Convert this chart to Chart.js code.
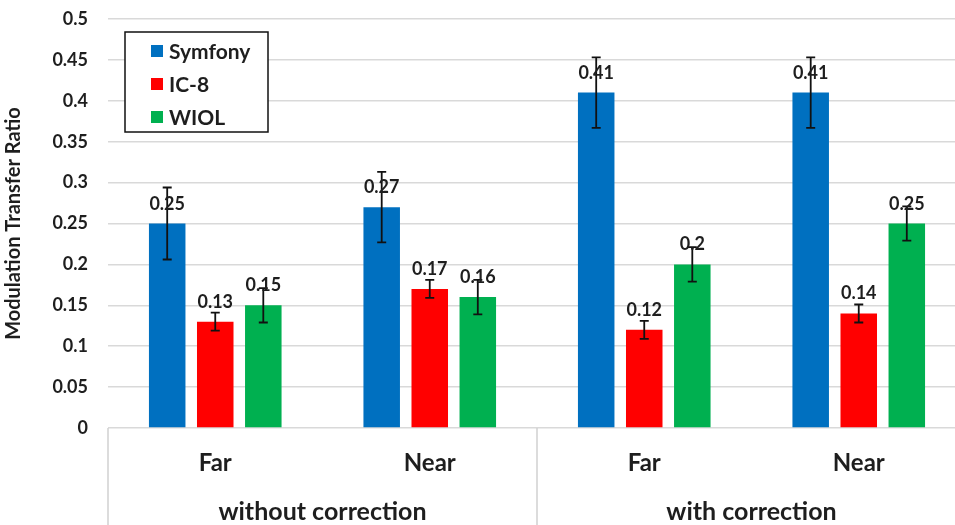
<!DOCTYPE html>
<html>
<head>
<meta charset="utf-8">
<script src="https://cdn.jsdelivr.net/npm/chart.js@4"></script>
<style>
html,body{margin:0;padding:0;background:#fff;overflow:hidden;}
#wrap{width:955px;height:525px;overflow:hidden;}
</style>
</head>
<body>
<div id="wrap"><canvas id="c" width="966" height="525"></canvas></div>
<script>
const categories = ["Far", "Near", "Far", "Near"];
const groups = ["without correction", "with correction"];
const seriesNames = ["Symfony", "IC-8", "WIOL"];
const symfony = [0.25, 0.27, 0.41, 0.41];
const ic8 = [0.13, 0.17, 0.12, 0.14];
const wiol = [0.15, 0.16, 0.20, 0.25];
const symfonyErr = [0.044, 0.043, 0.043, 0.043];
const ic8Err = [0.011, 0.011, 0.011, 0.011];
const wiolErr = [0.021, 0.021, 0.021, 0.021];
const yTicks = [0, 0.05, 0.1, 0.15, 0.2, 0.25, 0.3, 0.35, 0.4, 0.45, 0.5];

const colors = ["#0070C0", "#FF0000", "#00B050"];
const FONT = "Lato, 'Open Sans', sans-serif";
const TXT = "#1e1e1e";

const errorPlugin = {
  id: "errbars",
  afterDatasetsDraw(chart) {
    const ctx = chart.ctx, y = chart.scales.y;
    chart.data.datasets.forEach((ds, di) => {
      const meta = chart.getDatasetMeta(di);
      meta.data.forEach((bar, i) => {
        const v = ds.data[i], e = ds.errors[i];
        const yt = y.getPixelForValue(v + e), yb = y.getPixelForValue(v - e);
        ctx.save();
        ctx.strokeStyle = "#111";
        ctx.lineWidth = 1.8;
        ctx.beginPath();
        ctx.moveTo(bar.x, yt); ctx.lineTo(bar.x, yb);
        ctx.moveTo(bar.x - 4.5, yt); ctx.lineTo(bar.x + 4.5, yt);
        ctx.moveTo(bar.x - 4.5, yb); ctx.lineTo(bar.x + 4.5, yb);
        ctx.stroke();
        ctx.restore();
      });
    });
    chart.data.datasets.forEach((ds, di) => {
      const meta = chart.getDatasetMeta(di);
      meta.data.forEach((bar, i) => {
        ctx.save();
        ctx.font = "bold 18px " + FONT;
        ctx.fillStyle = TXT;
        ctx.textAlign = "center";
        ctx.textBaseline = "alphabetic";
        ctx.fillText(String(ds.data[i]), bar.x, bar.y - 14);
        ctx.restore();
      });
    });
  }
};

const extrasPlugin = {
  id: "extras",
  afterDraw(chart) {
    const ctx = chart.ctx, ca = chart.chartArea, x = chart.scales.x;
    const H = chart.height;
    const step = x.getPixelForValue(1) - x.getPixelForValue(0);
    const seps = [x.getPixelForValue(0) - step / 2, x.getPixelForValue(1) + step / 2, x.getPixelForValue(3) + step / 2];
    ctx.save();
    ctx.strokeStyle = "#D0D0D0";
    ctx.lineWidth = 1.5;
    seps.forEach(px => {
      ctx.beginPath(); ctx.moveTo(px, ca.bottom); ctx.lineTo(px, H); ctx.stroke();
    });
    ctx.font = "bold 25px " + FONT;
    ctx.fillStyle = TXT;
    ctx.textAlign = "center";
    ctx.textBaseline = "middle";
    groups.forEach((g, gi) => {
      const cx = (x.getPixelForValue(gi * 2) + x.getPixelForValue(gi * 2 + 1)) / 2;
      ctx.fillText(g, cx, 512);
    });
    const lx = ca.left + 17, ly = ca.top + 13, lw = 143, lh = 100;
    ctx.fillStyle = "#fff";
    ctx.fillRect(lx, ly, lw, lh);
    ctx.strokeStyle = "#111";
    ctx.lineWidth = 1.5;
    ctx.strokeRect(lx, ly, lw, lh);
    ctx.font = "bold 21px " + FONT;
    ctx.textAlign = "left";
    chart.data.datasets.forEach((ds, i) => {
      const cy = ly + 19 + i * 33;
      ctx.fillStyle = ds.backgroundColor;
      ctx.fillRect(lx + 26, cy - 6, 12, 12);
      ctx.fillStyle = TXT;
      ctx.fillText(ds.label, lx + 44, cy + 1);
    });
    ctx.restore();
  }
};

const chart = new Chart(document.getElementById("c"), {
  type: "bar",
  data: {
    labels: categories,
    datasets: [
      { label: seriesNames[0], data: symfony, errors: symfonyErr, backgroundColor: colors[0] },
      { label: seriesNames[1], data: ic8, errors: ic8Err, backgroundColor: colors[1] },
      { label: seriesNames[2], data: wiol, errors: wiolErr, backgroundColor: colors[2] }
    ]
  },
  options: {
    responsive: false,
    animation: false,
    devicePixelRatio: 1,
    layout: { padding: { top: 19, right: 0, left: 0, bottom: 0 } },
    datasets: { bar: { categoryPercentage: 0.672, barPercentage: 0.76 } },
    plugins: { legend: { display: false }, tooltip: { enabled: false } },
    scales: {
      x: {
        grid: { display: false },
        border: { display: false },
        ticks: { color: TXT, font: { family: FONT, size: 24, weight: "bold" }, padding: 13 },
        afterFit(s) { s.height = 97; s.paddingLeft = 0; s.paddingRight = 0; }
      },
      y: {
        min: 0, max: 0.5,
        afterBuildTicks(s) { s.ticks = yTicks.map(v => ({ value: v })); },
        grid: { color: "#D9D9D9", lineWidth: 1.5, drawTicks: false },
        border: { display: false },
        ticks: {
          color: TXT, font: { family: FONT, size: 18, weight: "bold" }, padding: 20,
          callback: v => String(+v.toFixed(2))
        },
        title: { display: true, text: "Modulation Transfer Ratio", color: TXT, font: { family: FONT, size: 20, weight: "bold" }, padding: { top: 2, bottom: 0 } },
        afterFit(s) { s.width = 108; s.paddingTop = 11; s.paddingBottom = 11; }
      }
    }
  },
  plugins: [errorPlugin, extrasPlugin]
});
</script>
</body>
</html>
